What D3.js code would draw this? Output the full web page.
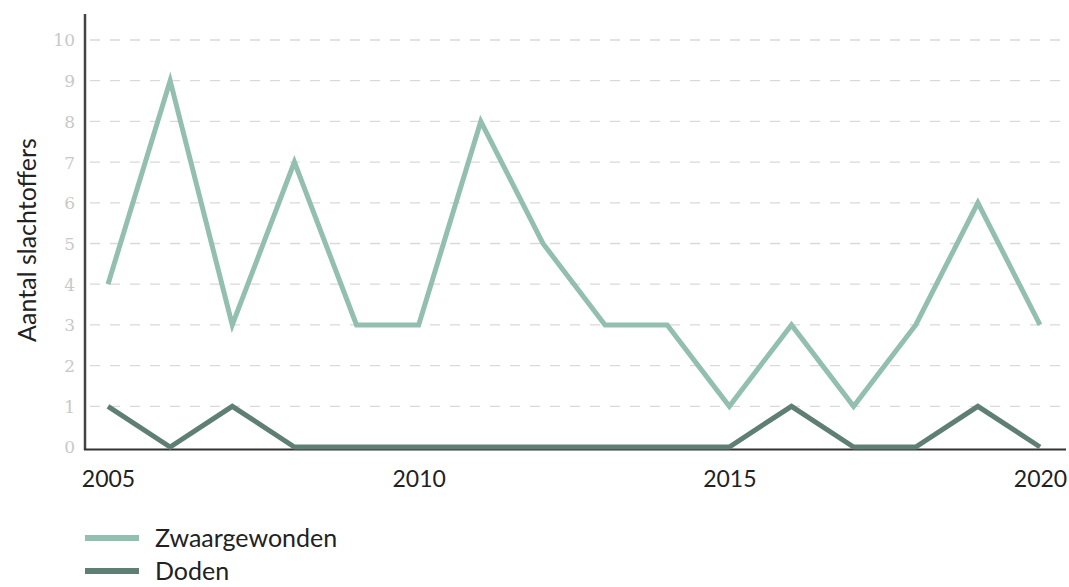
<!DOCTYPE html>
<html>
<head>
<meta charset="utf-8">
<script src="https://cdn.jsdelivr.net/npm/d3@7"></script>
<style>
  html, body { margin: 0; padding: 0; background: #fff; }
  svg { display: block; }
</style>
</head>
<body>
<svg id="chart" width="1069" height="587"></svg>
<script>
// Jaren en aantallen slachtoffers
const years = [2005, 2006, 2007, 2008, 2009, 2010, 2011, 2012, 2013, 2014, 2015, 2016, 2017, 2018, 2019, 2020];
const zwaargewonden = [4, 9, 3, 7, 3, 3, 8, 5, 3, 3, 1, 3, 1, 3, 6, 3];
const doden = [1, 0, 1, 0, 0, 0, 0, 0, 0, 0, 0, 1, 0, 0, 1, 0];
const yTicks = [0, 1, 2, 3, 4, 5, 6, 7, 8, 9, 10];
const xTicks = [2005, 2010, 2015, 2020];
const seriesNames = ["Zwaargewonden", "Doden"];
const seriesColors = ["#93bfb0", "#5f7f74"];

const svg = d3.select("#chart");
const font = "Lato, 'Open Sans', sans-serif";

const x = d3.scaleLinear().domain([2005, 2020]).range([108, 1040]);
const y = d3.scaleLinear().domain([0, 10]).range([447, 40]);

// Horizontale hulplijnen
svg.append("g")
  .selectAll("line")
  .data(yTicks.filter(d => d > 0))
  .join("line")
  .attr("x1", 90).attr("x2", 1066)
  .attr("y1", d => y(d)).attr("y2", d => y(d))
  .attr("stroke", "#d9d9d9")
  .attr("stroke-width", 1.3)
  .attr("stroke-dasharray", "10,10");

// Y-as labels
const yAxis = d3.axisLeft(y).tickValues(yTicks).tickSize(0).tickPadding(0);
const gy = svg.append("g").attr("transform", "translate(75,0)").call(yAxis);
gy.select(".domain").remove();
gy.selectAll("text")
  .attr("fill", "#c8c8c8")
  .attr("font-family", "'DejaVu Serif', serif")
  .attr("font-size", 17)
  .attr("dy", "0.35em");

// X-as labels
const xAxis = d3.axisBottom(x).tickValues(xTicks).tickFormat(d3.format("d")).tickSize(0).tickPadding(0);
const gx = svg.append("g").attr("transform", "translate(0,471)").call(xAxis);
gx.select(".domain").remove();
gx.selectAll("text")
  .attr("fill", "#222")
  .attr("font-family", font)
  .attr("font-size", 23);

// Aslijnen
svg.append("line")
  .attr("x1", 85).attr("x2", 85).attr("y1", 14).attr("y2", 450)
  .attr("stroke", "#444").attr("stroke-width", 2.5);
svg.append("line")
  .attr("x1", 84).attr("x2", 1066).attr("y1", 449.5).attr("y2", 449.5)
  .attr("stroke", "#333").attr("stroke-width", 2);

// Y-as titel
svg.append("text")
  .attr("transform", "translate(36,240) rotate(-90)")
  .attr("text-anchor", "middle")
  .attr("font-family", font)
  .attr("font-size", 25)
  .attr("fill", "#222")
  .text("Aantal slachtoffers");

// Lijnen
const line = d3.line().x((d, i) => x(years[i])).y(d => y(d));
[zwaargewonden, doden].forEach((vals, k) => {
  svg.append("path")
    .datum(vals)
    .attr("d", line)
    .attr("fill", "none")
    .attr("stroke", seriesColors[k])
    .attr("stroke-width", 5)
    .attr("stroke-linejoin", "miter");
});

// Legenda
const legend = svg.append("g").selectAll("g")
  .data(seriesNames)
  .join("g")
  .attr("transform", (d, i) => `translate(85,${538 + i * 33})`);
legend.append("line")
  .attr("x1", 0).attr("x2", 54).attr("y1", 0).attr("y2", 0)
  .attr("stroke", (d, i) => seriesColors[i])
  .attr("stroke-width", 6);
legend.append("text")
  .attr("x", 70).attr("y", 0).attr("dy", "0.35em")
  .attr("font-family", font)
  .attr("font-size", 25)
  .attr("fill", "#222")
  .text(d => d);
</script>
</body>
</html>
